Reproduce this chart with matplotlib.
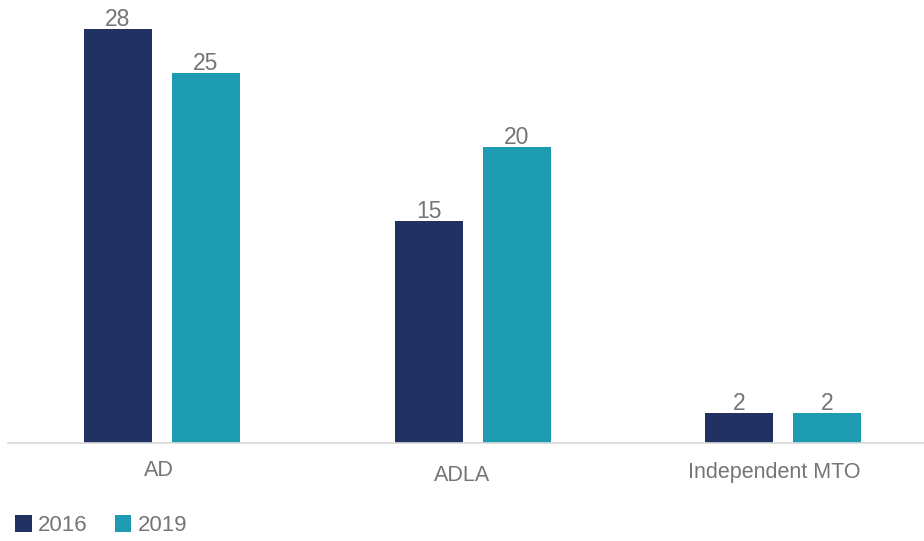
import matplotlib.pyplot as plt
import matplotlib.transforms as mtransforms
import numpy as np

categories = ['AD', 'ADLA', 'Independent MTO']
years = ['2016', '2019']
values_2016 = [28, 15, 2]
values_2019 = [25, 20, 2]
colors = ['#203162', '#1D9BB0']

plt.rcParams['font.family'] = ['Liberation Sans', 'DejaVu Sans']
text_gray = '#757575'

fig = plt.figure(figsize=(9.24, 5.41), dpi=100)
ax = fig.add_axes([8 / 924, 98 / 541, 916 / 924, 443 / 541])

x = np.arange(len(categories))
width = 0.219
offset = 0.1417

bars1 = ax.bar(x - offset, values_2016, width, color=colors[0], label=years[0])
bars2 = ax.bar(x + offset, values_2019, width, color=colors[1], label=years[1])

for bars in (bars1, bars2):
    ax.bar_label(bars, padding=-1.5, fontsize=16.5, color=text_gray)

ax.set_xlim(-0.496, 2.454)
ax.set_ylim(0, 29.93)
ax.set_yticks([])
for side in ['top', 'right', 'left']:
    ax.spines[side].set_visible(False)
ax.spines['bottom'].set_color('#d9d9d9')
ax.spines['bottom'].set_linewidth(1.2)

ax.set_xticks(x)
ax.set_xticklabels(categories, fontsize=15.5, color=text_gray)
ax.tick_params(axis='x', length=0, pad=12)

# small per-label nudges (pixels) to match the original layout
nudges = [(-3, 0), (-10.5, -5), (-9, -2)]
for lbl, (dx, dy) in zip(ax.get_xticklabels(), nudges):
    lbl.set_transform(lbl.get_transform() +
                      mtransforms.ScaledTranslation(dx / 100, dy / 100, fig.dpi_scale_trans))

leg = fig.legend(loc='lower left', bbox_to_anchor=(6 / 924, -4 / 541), ncol=2,
                 frameon=False, fontsize=16, handlelength=0.75, handleheight=0.75,
                 handletextpad=0.3, columnspacing=1.2, borderaxespad=0)
for t in leg.get_texts():
    t.set_color(text_gray)

fig.savefig('out.png', dpi=100)
